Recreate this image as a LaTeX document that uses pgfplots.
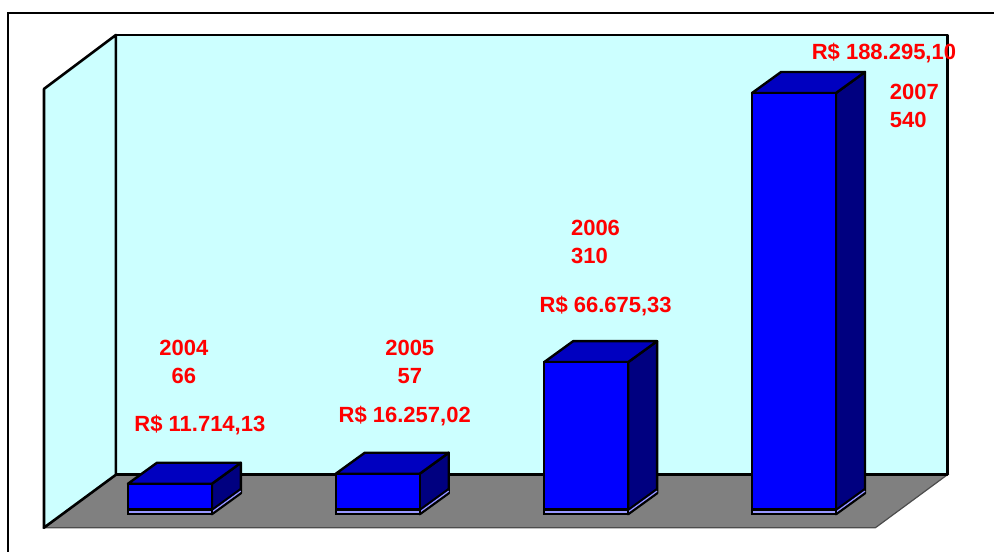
\documentclass[border=0pt]{standalone}
\usepackage{pgfplots}
\pgfplotsset{compat=1.18}
\usepackage{pgfplotstable}
\usepackage{fontspec}
\setmainfont{Liberation Sans}

\definecolor{wallc}{HTML}{CCFFFF}
\definecolor{floorc}{HTML}{808080}
\definecolor{frontc}{HTML}{0000FF}
\definecolor{topc}{HTML}{0000C0}
\definecolor{sidec}{HTML}{000080}
\definecolor{basec}{HTML}{9999FF}

\tikzset{lbl/.style={font=\fontsize{11}{13}\selectfont\bfseries, text=red, inner sep=0pt}}

% pos = bar centre (picture units), v = value in R$
\pgfplotstableread{
pos   v
170   11714.13
378   16257.02
586.5 66675.33
794.5 188295.10
}\bars

\begin{document}
\begin{tikzpicture}
\begin{axis}[
    width=497.5pt, height=276pt, scale only axis,
    xmin=0, xmax=995, ymin=-42, ymax=510,
    hide axis, clip=false,
]
\path (axis cs:0,-42) rectangle (axis cs:995,510);
% outer frame
\draw[black, line width=0.6pt] (axis cs:8,-42) -- (axis cs:8,497) -- (axis cs:995,497);
% floor
\fill[floorc, draw=black!70, line width=0.6pt]
    (axis cs:44,-18) -- (axis cs:116,35) -- (axis cs:948,35) -- (axis cs:876,-18) -- cycle;
% walls
\filldraw[fill=wallc, draw=black, line width=1.3pt, line join=round]
    (axis cs:116,35) rectangle (axis cs:948,475);
\filldraw[fill=wallc, draw=black, line width=1.3pt, line join=round]
    (axis cs:44,-18) -- (axis cs:44,421) -- (axis cs:116,475) -- (axis cs:116,35) -- cycle;

% side, top and base of each bar, from the table
\pgfplotsinvokeforeach{0,...,3}{
  \pgfplotstablegetelem{#1}{pos}\of\bars \let\bx\pgfplotsretval
  \pgfplotstablegetelem{#1}{v}\of\bars \let\bv\pgfplotsretval
  \begingroup
    \pgfkeys{/pgf/fpu=true,/pgf/fpu/output format=fixed}
    \pgfmathparse{\bv/451.6}\xdef\bh{\pgfmathresult}
  \endgroup
  \pgfmathsetmacro\bhe{\bh+21}
  \pgfmathsetmacro\xa{\bx-42}
  \pgfmathsetmacro\xb{\bx+42}
  \pgfmathsetmacro\xc{\bx+71}
  \pgfmathsetmacro\xd{\bx-13}
  \edef\cmd{%
    \noexpand\filldraw[fill=sidec, draw=black, line width=1.2pt, line join=round]
      (axis cs:\xb,-4.5) -- (axis cs:\xc,16.5) -- (axis cs:\xc,\bhe) -- (axis cs:\xb,\bh) -- cycle;
    \noexpand\draw[basec, line width=0.6pt] (axis cs:\xb,-2.4) -- (axis cs:\xc,18.6);
    \noexpand\draw[black, line width=0.9pt] (axis cs:\xb,0) -- (axis cs:\xc,21);
    \noexpand\filldraw[fill=topc, draw=black, line width=1.2pt, line join=round]
      (axis cs:\xa,\bh) -- (axis cs:\xb,\bh) -- (axis cs:\xc,\bhe) -- (axis cs:\xd,\bhe) -- cycle;
    \noexpand\filldraw[fill=basec, draw=black, line width=0.9pt]
      (axis cs:\xa,-4.5) rectangle (axis cs:\xb,0);
  }\cmd
}

% front faces
\addplot[ybar, bar width=84, fill=frontc, draw=black, line width=1.2pt]
    table[x=pos, y expr=\thisrow{v}/451.6] {\bars};

% labels
\node[lbl, anchor=base] at (axis cs:184,154) {2004};
\node[lbl, anchor=base] at (axis cs:184,126) {66};
\node[lbl, anchor=base] at (axis cs:200,78) {R\$ 11.714,13};
\node[lbl, anchor=base] at (axis cs:410,154) {2005};
\node[lbl, anchor=base] at (axis cs:410,126) {57};
\node[lbl, anchor=base] at (axis cs:405,87) {R\$ 16.257,02};
\node[lbl, anchor=base west] at (axis cs:571,274) {2006};
\node[lbl, anchor=base west] at (axis cs:571,246) {310};
\node[lbl, anchor=base] at (axis cs:606,197) {R\$ 66.675,33};
\node[lbl, anchor=base] at (axis cs:884.5,450) {R\$ 188.295,10};
\node[lbl, anchor=base west] at (axis cs:890,410) {2007};
\node[lbl, anchor=base west] at (axis cs:890,382) {540};
\end{axis}
\end{tikzpicture}
\end{document}
